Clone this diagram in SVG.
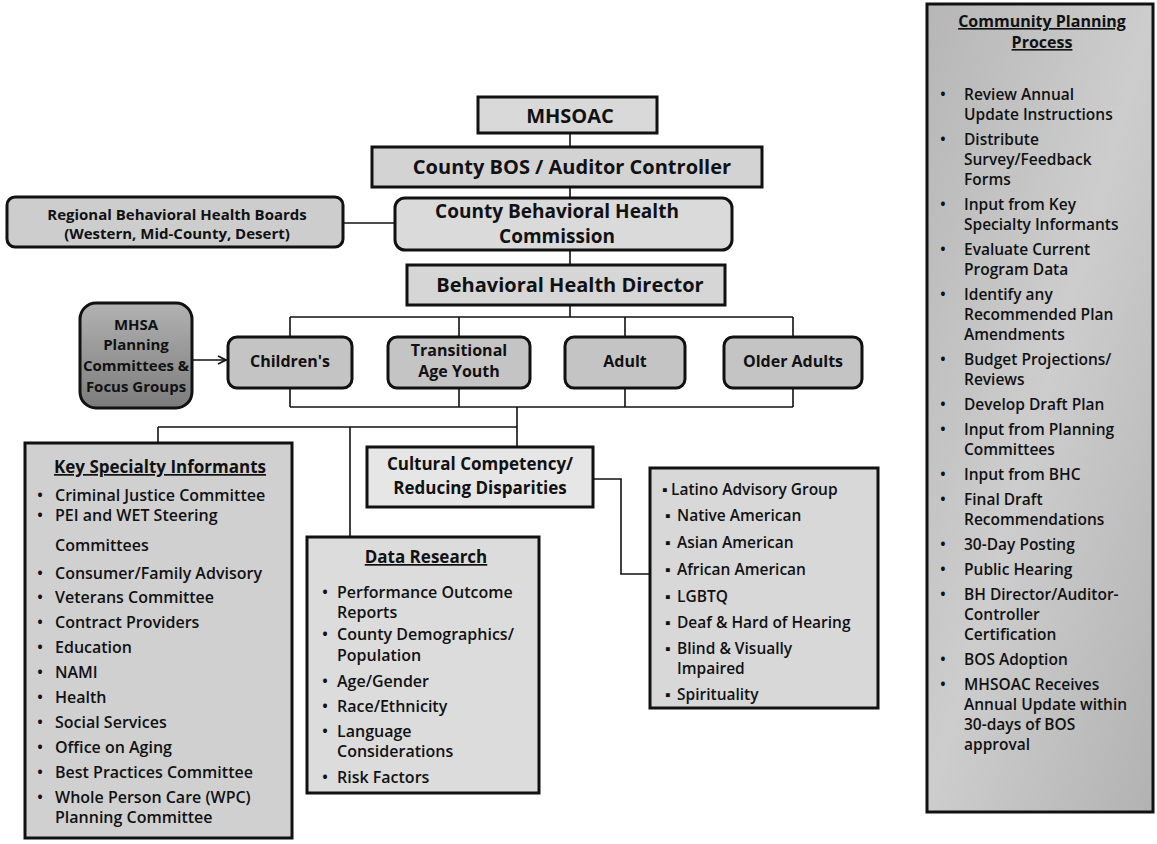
<svg xmlns="http://www.w3.org/2000/svg" width="1157" height="844" viewBox="0 0 1157 844">
<defs>
<style>
text{font-family:"Open Sans","Liberation Sans",sans-serif;fill:#111}
.box{stroke:#111;stroke-width:3}
.ln{stroke:#111;stroke-width:1.6;fill:none}
.c{text-anchor:middle}
.h20{font-size:20px;font-weight:700}
.h19{font-size:19px;font-weight:700}
.h17{font-size:17px;font-weight:700}
.h16{font-size:16px;font-weight:700}
.h15{font-size:15px;font-weight:700}
.li{font-size:16px;font-weight:600}
.cp{font-size:15.5px;font-weight:600}
.u{text-decoration:underline}
</style>
<linearGradient id="gMhsa" x1="0" y1="0" x2="0" y2="1"><stop offset="0" stop-color="#b2b2b2"/><stop offset="1" stop-color="#7c7c7c"/></linearGradient>
<linearGradient id="gCpp" x1="0" y1="0" x2="1" y2="1"><stop offset="0" stop-color="#b6b6b6"/><stop offset="0.5" stop-color="#cdcdcd"/><stop offset="1" stop-color="#b2b2b2"/></linearGradient>
<marker id="arr" viewBox="0 0 10 10" refX="9" refY="5" markerWidth="10" markerHeight="10" markerUnits="userSpaceOnUse" orient="auto"><path d="M1,1 L9,5 L1,9" fill="none" stroke="#111" stroke-width="1.6"/></marker>
</defs>

<g id="connectors">
<path class="ln" d="M570,133 V147"/>
<path class="ln" d="M570,187 V198"/>
<path class="ln" d="M343,223 H395"/>
<path class="ln" d="M570,250 V265"/>
<path class="ln" d="M570,305 V317"/>
<path class="ln" d="M290,317 H793"/>
<path class="ln" d="M290,317 V337 M459,317 V337 M625,317 V337 M793,317 V337"/>
<path class="ln" d="M290,388 V407 M459,388 V407 M625,388 V407 M793,388 V407"/>
<path class="ln" d="M290,407 H793"/>
<path class="ln" d="M517,407 V447"/>
<path class="ln" d="M158,427 H517"/>
<path class="ln" d="M158,427 V443"/>
<path class="ln" d="M350,427 V537"/>
<path class="ln" d="M593,479 H621 V574 H650"/>
<path class="ln" d="M192,360 H226" marker-end="url(#arr)"/>
</g>

<g id="mhsoac">
<rect class="box" x="478" y="97" width="179" height="36" fill="#d9d9d9"/>
<text class="h20 c" x="570" y="123">MHSOAC</text>
</g>

<g id="bos">
<rect class="box" x="372" y="147" width="390" height="40" fill="#d3d3d3"/>
<text class="h20 c" x="572" y="174">County BOS / Auditor Controller</text>
</g>

<g id="commission">
<rect class="box" x="395" y="198" width="337" height="52" rx="10" fill="#dadada"/>
<text class="h19 c" x="557" y="218">County Behavioral Health</text>
<text class="h19 c" x="557" y="243">Commission</text>
</g>

<g id="regional">
<rect class="box" x="7" y="197" width="336" height="50" rx="8" fill="#cdcdcd"/>
<text class="h15 c" x="177" y="220">Regional Behavioral Health Boards</text>
<text class="h15 c" x="177" y="239">(Western, Mid-County, Desert)</text>
</g>

<g id="director">
<rect class="box" x="407" y="265" width="318" height="40" fill="#d6d6d6"/>
<text class="h20 c" x="570" y="292">Behavioral Health Director</text>
</g>

<g id="childrens">
<rect class="box" x="228" y="337" width="124" height="51" rx="9" fill="#c4c4c4"/>
<text class="h16 c" x="290" y="367">Children's</text>
</g>

<g id="tay">
<rect class="box" x="388" y="337" width="142" height="51" rx="9" fill="#c4c4c4"/>
<text class="h16 c" x="459" y="356">Transitional</text>
<text class="h16 c" x="459" y="377">Age Youth</text>
</g>

<g id="adult">
<rect class="box" x="565" y="337" width="120" height="51" rx="9" fill="#c4c4c4"/>
<text class="h16 c" x="625" y="367">Adult</text>
</g>

<g id="older-adults">
<rect class="box" x="724" y="337" width="138" height="51" rx="9" fill="#c4c4c4"/>
<text class="h16 c" x="793" y="367">Older Adults</text>
</g>

<g id="mhsa-planning">
<rect class="box" x="80" y="303" width="112" height="105" rx="16" fill="url(#gMhsa)"/>
<text class="h15 c" x="136" y="330">MHSA</text>
<text class="h15 c" x="136" y="350">Planning</text>
<text class="h15 c" x="136" y="371">Committees &amp;</text>
<text class="h15 c" x="136" y="392">Focus Groups</text>
</g>

<g id="key-specialty">
<rect class="box" x="25" y="443" width="267" height="395" fill="#d0d0d0"/>
<text class="h17 c u" x="160" y="473">Key Specialty Informants</text>
<g class="li">
<text x="37" y="501">•</text><text x="55" y="501">Criminal Justice Committee</text>
<text x="37" y="521">•</text><text x="55" y="521">PEI and WET Steering</text>
<text x="55" y="551">Committees</text>
<text x="37" y="579">•</text><text x="55" y="579">Consumer/Family Advisory</text>
<text x="37" y="603">•</text><text x="55" y="603">Veterans Committee</text>
<text x="37" y="628">•</text><text x="55" y="628">Contract Providers</text>
<text x="37" y="653">•</text><text x="55" y="653">Education</text>
<text x="37" y="678">•</text><text x="55" y="678">NAMI</text>
<text x="37" y="703">•</text><text x="55" y="703">Health</text>
<text x="37" y="728">•</text><text x="55" y="728">Social Services</text>
<text x="37" y="753">•</text><text x="55" y="753">Office on Aging</text>
<text x="37" y="778">•</text><text x="55" y="778">Best Practices Committee</text>
<text x="37" y="803">•</text><text x="55" y="803">Whole Person Care (WPC)</text>
<text x="55" y="823">Planning Committee</text>
</g>
</g>

<g id="data-research">
<rect class="box" x="307" y="537" width="232" height="256" fill="#dcdcdc"/>
<text class="h17 c u" x="426" y="563">Data Research</text>
<g class="li">
<text x="322" y="598">•</text><text x="337" y="598">Performance Outcome</text>
<text x="337" y="618">Reports</text>
<text x="322" y="640">•</text><text x="337" y="640">County Demographics/</text>
<text x="337" y="661">Population</text>
<text x="322" y="687">•</text><text x="337" y="687">Age/Gender</text>
<text x="322" y="712">•</text><text x="337" y="712">Race/Ethnicity</text>
<text x="322" y="737">•</text><text x="337" y="737">Language</text>
<text x="337" y="757">Considerations</text>
<text x="322" y="783">•</text><text x="337" y="783">Risk Factors</text>
</g>
</g>

<g id="cultural-competency">
<rect class="box" x="367" y="447" width="226" height="60" fill="#e6e6e6"/>
<text class="h17 c" x="480" y="470">Cultural Competency/</text>
<text class="h17 c" x="480" y="494">Reducing Disparities</text>
</g>

<g id="cultural-groups">
<rect class="box" x="650" y="468" width="228" height="240" fill="#d8d8d8"/>
<g class="cp">
<text x="662" y="495">▪</text><text x="671" y="495">Latino Advisory Group</text>
<text x="665" y="521">▪</text><text x="677" y="521">Native American</text>
<text x="665" y="548">▪</text><text x="677" y="548">Asian American</text>
<text x="665" y="575">▪</text><text x="677" y="575">African American</text>
<text x="665" y="602">▪</text><text x="677" y="602">LGBTQ</text>
<text x="665" y="628">▪</text><text x="677" y="628">Deaf &amp; Hard of Hearing</text>
<text x="665" y="654">▪</text><text x="677" y="654">Blind &amp; Visually</text>
<text x="677" y="674">Impaired</text>
<text x="665" y="700">▪</text><text x="677" y="700">Spirituality</text>
</g>
</g>

<g id="community-planning">
<rect class="box" x="927" y="4" width="226" height="808" fill="url(#gCpp)"/>
<text class="h16 c u" x="1042" y="27">Community Planning</text>
<text class="h16 c u" x="1042" y="48">Process</text>
<g class="cp">
<text x="940" y="100">•</text><text x="964" y="100">Review Annual</text>
<text x="964" y="120">Update Instructions</text>
<text x="940" y="145">•</text><text x="964" y="145">Distribute</text>
<text x="964" y="165">Survey/Feedback</text>
<text x="964" y="185">Forms</text>
<text x="940" y="210">•</text><text x="964" y="210">Input from Key</text>
<text x="964" y="230">Specialty Informants</text>
<text x="940" y="255">•</text><text x="964" y="255">Evaluate Current</text>
<text x="964" y="275">Program Data</text>
<text x="940" y="300">•</text><text x="964" y="300">Identify any</text>
<text x="964" y="320">Recommended Plan</text>
<text x="964" y="340">Amendments</text>
<text x="940" y="365">•</text><text x="964" y="365">Budget Projections/</text>
<text x="964" y="385">Reviews</text>
<text x="940" y="410">•</text><text x="964" y="410">Develop Draft Plan</text>
<text x="940" y="435">•</text><text x="964" y="435">Input from Planning</text>
<text x="964" y="455">Committees</text>
<text x="940" y="480">•</text><text x="964" y="480">Input from BHC</text>
<text x="940" y="505">•</text><text x="964" y="505">Final Draft</text>
<text x="964" y="525">Recommendations</text>
<text x="940" y="550">•</text><text x="964" y="550">30-Day Posting</text>
<text x="940" y="575">•</text><text x="964" y="575">Public Hearing</text>
<text x="940" y="600">•</text><text x="964" y="600">BH Director/Auditor-</text>
<text x="964" y="620">Controller</text>
<text x="964" y="640">Certification</text>
<text x="940" y="665">•</text><text x="964" y="665">BOS Adoption</text>
<text x="940" y="690">•</text><text x="964" y="690">MHSOAC Receives</text>
<text x="964" y="710">Annual Update within</text>
<text x="964" y="730">30-days of BOS</text>
<text x="964" y="750">approval</text>
</g>
</g>
</svg>
